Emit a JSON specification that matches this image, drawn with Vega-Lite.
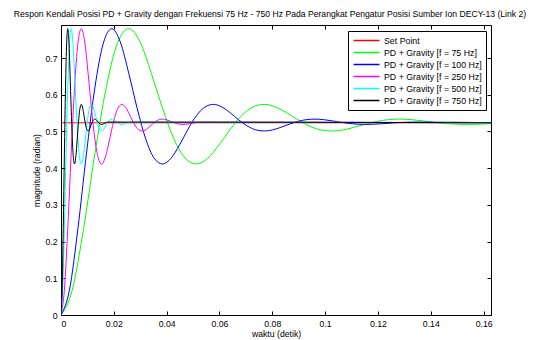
{
"$schema": "https://vega.github.io/schema/vega-lite/v6.json",
"width": 430, "height": 290,
"autosize": {"type": "none"},
"padding": {"left": 61, "top": 25, "right": 46, "bottom": 25},
"background": "white",
"title": {"text": "Respon Kendali Posisi PD + Gravity dengan Frekuensi 75 Hz - 750 Hz Pada Perangkat Pengatur Posisi Sumber Ion DECY-13 (Link 2)", "fontSize": 8.65, "font": "Liberation Sans", "fontWeight": "normal", "color": "black", "anchor": "middle", "dx": -6, "offset": 6},
"config": {
  "view": {"stroke": null},
  "font": "Liberation Sans",
  "axis": {"domainColor": "black", "domainWidth": 1, "tickColor": "black", "tickSize": -4, "labelPadding": 8, "labelFontSize": 8.7, "labelColor": "black", "labelFont": "Liberation Sans", "titleFont": "Liberation Sans", "titleFontSize": 8.7, "titleFontWeight": "normal", "titleColor": "black", "grid": false}
},
"data": {"values": [
{"s":"Set Point","t":0,"y":0.5236},{"s":"Set Point","t":0.167,"y":0.5236},
{"s":"PD + Gravity [f = 75 Hz]","t":0,"y":0},
{"s":"PD + Gravity [f = 75 Hz]","t":0.00427,"y":0.0683},
{"s":"PD + Gravity [f = 75 Hz]","t":0.00855,"y":0.2357},
{"s":"PD + Gravity [f = 75 Hz]","t":0.01282,"y":0.4389},
{"s":"PD + Gravity [f = 75 Hz]","t":0.0171,"y":0.6192},
{"s":"PD + Gravity [f = 75 Hz]","t":0.02137,"y":0.7405},
{"s":"PD + Gravity [f = 75 Hz]","t":0.02565,"y":0.78},
{"s":"PD + Gravity [f = 75 Hz]","t":0.02992,"y":0.744},
{"s":"PD + Gravity [f = 75 Hz]","t":0.03419,"y":0.6586},
{"s":"PD + Gravity [f = 75 Hz]","t":0.03847,"y":0.5628},
{"s":"PD + Gravity [f = 75 Hz]","t":0.04274,"y":0.4798},
{"s":"PD + Gravity [f = 75 Hz]","t":0.04702,"y":0.4273},
{"s":"PD + Gravity [f = 75 Hz]","t":0.05129,"y":0.4113},
{"s":"PD + Gravity [f = 75 Hz]","t":0.05557,"y":0.4271},
{"s":"PD + Gravity [f = 75 Hz]","t":0.05984,"y":0.4633},
{"s":"PD + Gravity [f = 75 Hz]","t":0.06411,"y":0.5061},
{"s":"PD + Gravity [f = 75 Hz]","t":0.06839,"y":0.5432},
{"s":"PD + Gravity [f = 75 Hz]","t":0.07266,"y":0.5666},
{"s":"PD + Gravity [f = 75 Hz]","t":0.07694,"y":0.5738},
{"s":"PD + Gravity [f = 75 Hz]","t":0.08121,"y":0.5667},
{"s":"PD + Gravity [f = 75 Hz]","t":0.08549,"y":0.5506},
{"s":"PD + Gravity [f = 75 Hz]","t":0.08976,"y":0.5314},
{"s":"PD + Gravity [f = 75 Hz]","t":0.09403,"y":0.5149},
{"s":"PD + Gravity [f = 75 Hz]","t":0.09831,"y":0.5044},
{"s":"PD + Gravity [f = 75 Hz]","t":0.10258,"y":0.5012},
{"s":"PD + Gravity [f = 75 Hz]","t":0.10686,"y":0.5043},
{"s":"PD + Gravity [f = 75 Hz]","t":0.11113,"y":0.5116},
{"s":"PD + Gravity [f = 75 Hz]","t":0.11541,"y":0.5201},
{"s":"PD + Gravity [f = 75 Hz]","t":0.11968,"y":0.5275},
{"s":"PD + Gravity [f = 75 Hz]","t":0.12395,"y":0.5322},
{"s":"PD + Gravity [f = 75 Hz]","t":0.12823,"y":0.5336},
{"s":"PD + Gravity [f = 75 Hz]","t":0.1325,"y":0.5322},
{"s":"PD + Gravity [f = 75 Hz]","t":0.13678,"y":0.529},
{"s":"PD + Gravity [f = 75 Hz]","t":0.14105,"y":0.5252},
{"s":"PD + Gravity [f = 75 Hz]","t":0.14533,"y":0.5219},
{"s":"PD + Gravity [f = 75 Hz]","t":0.1496,"y":0.5198},
{"s":"PD + Gravity [f = 75 Hz]","t":0.15387,"y":0.5191},
{"s":"PD + Gravity [f = 75 Hz]","t":0.15815,"y":0.5198},
{"s":"PD + Gravity [f = 75 Hz]","t":0.16242,"y":0.5212},
{"s":"PD + Gravity [f = 75 Hz]","t":0.1667,"y":0.5229},
{"s":"PD + Gravity [f = 100 Hz]","t":0,"y":0},
{"s":"PD + Gravity [f = 100 Hz]","t":0.00321,"y":0.0683},
{"s":"PD + Gravity [f = 100 Hz]","t":0.00641,"y":0.2357},
{"s":"PD + Gravity [f = 100 Hz]","t":0.00962,"y":0.4389},
{"s":"PD + Gravity [f = 100 Hz]","t":0.01282,"y":0.6192},
{"s":"PD + Gravity [f = 100 Hz]","t":0.01603,"y":0.7405},
{"s":"PD + Gravity [f = 100 Hz]","t":0.01923,"y":0.78},
{"s":"PD + Gravity [f = 100 Hz]","t":0.02244,"y":0.744},
{"s":"PD + Gravity [f = 100 Hz]","t":0.02565,"y":0.6586},
{"s":"PD + Gravity [f = 100 Hz]","t":0.02885,"y":0.5628},
{"s":"PD + Gravity [f = 100 Hz]","t":0.03206,"y":0.4798},
{"s":"PD + Gravity [f = 100 Hz]","t":0.03526,"y":0.4273},
{"s":"PD + Gravity [f = 100 Hz]","t":0.03847,"y":0.4113},
{"s":"PD + Gravity [f = 100 Hz]","t":0.04167,"y":0.4271},
{"s":"PD + Gravity [f = 100 Hz]","t":0.04488,"y":0.4633},
{"s":"PD + Gravity [f = 100 Hz]","t":0.04809,"y":0.5061},
{"s":"PD + Gravity [f = 100 Hz]","t":0.05129,"y":0.5432},
{"s":"PD + Gravity [f = 100 Hz]","t":0.0545,"y":0.5666},
{"s":"PD + Gravity [f = 100 Hz]","t":0.0577,"y":0.5738},
{"s":"PD + Gravity [f = 100 Hz]","t":0.06091,"y":0.5667},
{"s":"PD + Gravity [f = 100 Hz]","t":0.06411,"y":0.5506},
{"s":"PD + Gravity [f = 100 Hz]","t":0.06732,"y":0.5314},
{"s":"PD + Gravity [f = 100 Hz]","t":0.07053,"y":0.5149},
{"s":"PD + Gravity [f = 100 Hz]","t":0.07373,"y":0.5044},
{"s":"PD + Gravity [f = 100 Hz]","t":0.07694,"y":0.5012},
{"s":"PD + Gravity [f = 100 Hz]","t":0.08014,"y":0.5043},
{"s":"PD + Gravity [f = 100 Hz]","t":0.08335,"y":0.5116},
{"s":"PD + Gravity [f = 100 Hz]","t":0.08655,"y":0.5201},
{"s":"PD + Gravity [f = 100 Hz]","t":0.08976,"y":0.5275},
{"s":"PD + Gravity [f = 100 Hz]","t":0.09297,"y":0.5322},
{"s":"PD + Gravity [f = 100 Hz]","t":0.09617,"y":0.5336},
{"s":"PD + Gravity [f = 100 Hz]","t":0.09938,"y":0.5322},
{"s":"PD + Gravity [f = 100 Hz]","t":0.10258,"y":0.529},
{"s":"PD + Gravity [f = 100 Hz]","t":0.10579,"y":0.5252},
{"s":"PD + Gravity [f = 100 Hz]","t":0.10899,"y":0.5219},
{"s":"PD + Gravity [f = 100 Hz]","t":0.1122,"y":0.5198},
{"s":"PD + Gravity [f = 100 Hz]","t":0.11541,"y":0.5191},
{"s":"PD + Gravity [f = 100 Hz]","t":0.11861,"y":0.5198},
{"s":"PD + Gravity [f = 100 Hz]","t":0.12182,"y":0.5212},
{"s":"PD + Gravity [f = 100 Hz]","t":0.12502,"y":0.5229},
{"s":"PD + Gravity [f = 100 Hz]","t":0.12823,"y":0.5244},
{"s":"PD + Gravity [f = 100 Hz]","t":0.13143,"y":0.5253},
{"s":"PD + Gravity [f = 100 Hz]","t":0.13464,"y":0.5256},
{"s":"PD + Gravity [f = 100 Hz]","t":0.167,"y":0.5236},
{"s":"PD + Gravity [f = 250 Hz]","t":0,"y":0},
{"s":"PD + Gravity [f = 250 Hz]","t":0.00128,"y":0.0683},
{"s":"PD + Gravity [f = 250 Hz]","t":0.00256,"y":0.2357},
{"s":"PD + Gravity [f = 250 Hz]","t":0.00385,"y":0.4389},
{"s":"PD + Gravity [f = 250 Hz]","t":0.00513,"y":0.6192},
{"s":"PD + Gravity [f = 250 Hz]","t":0.00641,"y":0.7405},
{"s":"PD + Gravity [f = 250 Hz]","t":0.00769,"y":0.78},
{"s":"PD + Gravity [f = 250 Hz]","t":0.00898,"y":0.744},
{"s":"PD + Gravity [f = 250 Hz]","t":0.01026,"y":0.6586},
{"s":"PD + Gravity [f = 250 Hz]","t":0.01154,"y":0.5628},
{"s":"PD + Gravity [f = 250 Hz]","t":0.01282,"y":0.4798},
{"s":"PD + Gravity [f = 250 Hz]","t":0.01411,"y":0.4273},
{"s":"PD + Gravity [f = 250 Hz]","t":0.01539,"y":0.4113},
{"s":"PD + Gravity [f = 250 Hz]","t":0.01667,"y":0.4271},
{"s":"PD + Gravity [f = 250 Hz]","t":0.01795,"y":0.4633},
{"s":"PD + Gravity [f = 250 Hz]","t":0.01923,"y":0.5061},
{"s":"PD + Gravity [f = 250 Hz]","t":0.02052,"y":0.5432},
{"s":"PD + Gravity [f = 250 Hz]","t":0.0218,"y":0.5666},
{"s":"PD + Gravity [f = 250 Hz]","t":0.02308,"y":0.5738},
{"s":"PD + Gravity [f = 250 Hz]","t":0.02436,"y":0.5667},
{"s":"PD + Gravity [f = 250 Hz]","t":0.02565,"y":0.5506},
{"s":"PD + Gravity [f = 250 Hz]","t":0.02693,"y":0.5314},
{"s":"PD + Gravity [f = 250 Hz]","t":0.02821,"y":0.5149},
{"s":"PD + Gravity [f = 250 Hz]","t":0.02949,"y":0.5044},
{"s":"PD + Gravity [f = 250 Hz]","t":0.03078,"y":0.5012},
{"s":"PD + Gravity [f = 250 Hz]","t":0.03206,"y":0.5043},
{"s":"PD + Gravity [f = 250 Hz]","t":0.03334,"y":0.5116},
{"s":"PD + Gravity [f = 250 Hz]","t":0.03462,"y":0.5201},
{"s":"PD + Gravity [f = 250 Hz]","t":0.0359,"y":0.5275},
{"s":"PD + Gravity [f = 250 Hz]","t":0.03719,"y":0.5322},
{"s":"PD + Gravity [f = 250 Hz]","t":0.03847,"y":0.5336},
{"s":"PD + Gravity [f = 250 Hz]","t":0.03975,"y":0.5322},
{"s":"PD + Gravity [f = 250 Hz]","t":0.04103,"y":0.529},
{"s":"PD + Gravity [f = 250 Hz]","t":0.04232,"y":0.5252},
{"s":"PD + Gravity [f = 250 Hz]","t":0.0436,"y":0.5219},
{"s":"PD + Gravity [f = 250 Hz]","t":0.04488,"y":0.5198},
{"s":"PD + Gravity [f = 250 Hz]","t":0.04616,"y":0.5191},
{"s":"PD + Gravity [f = 250 Hz]","t":0.04744,"y":0.5198},
{"s":"PD + Gravity [f = 250 Hz]","t":0.04873,"y":0.5212},
{"s":"PD + Gravity [f = 250 Hz]","t":0.05001,"y":0.5229},
{"s":"PD + Gravity [f = 250 Hz]","t":0.05129,"y":0.5244},
{"s":"PD + Gravity [f = 250 Hz]","t":0.05257,"y":0.5253},
{"s":"PD + Gravity [f = 250 Hz]","t":0.05386,"y":0.5256},
{"s":"PD + Gravity [f = 250 Hz]","t":0.167,"y":0.5236},
{"s":"PD + Gravity [f = 500 Hz]","t":0,"y":0},
{"s":"PD + Gravity [f = 500 Hz]","t":0.00064,"y":0.0683},
{"s":"PD + Gravity [f = 500 Hz]","t":0.00128,"y":0.2357},
{"s":"PD + Gravity [f = 500 Hz]","t":0.00192,"y":0.4389},
{"s":"PD + Gravity [f = 500 Hz]","t":0.00256,"y":0.6192},
{"s":"PD + Gravity [f = 500 Hz]","t":0.00321,"y":0.7405},
{"s":"PD + Gravity [f = 500 Hz]","t":0.00385,"y":0.78},
{"s":"PD + Gravity [f = 500 Hz]","t":0.00449,"y":0.744},
{"s":"PD + Gravity [f = 500 Hz]","t":0.00513,"y":0.6586},
{"s":"PD + Gravity [f = 500 Hz]","t":0.00577,"y":0.5628},
{"s":"PD + Gravity [f = 500 Hz]","t":0.00641,"y":0.4798},
{"s":"PD + Gravity [f = 500 Hz]","t":0.00705,"y":0.4273},
{"s":"PD + Gravity [f = 500 Hz]","t":0.00769,"y":0.4113},
{"s":"PD + Gravity [f = 500 Hz]","t":0.00833,"y":0.4271},
{"s":"PD + Gravity [f = 500 Hz]","t":0.00898,"y":0.4633},
{"s":"PD + Gravity [f = 500 Hz]","t":0.00962,"y":0.5061},
{"s":"PD + Gravity [f = 500 Hz]","t":0.01026,"y":0.5432},
{"s":"PD + Gravity [f = 500 Hz]","t":0.0109,"y":0.5666},
{"s":"PD + Gravity [f = 500 Hz]","t":0.01154,"y":0.5738},
{"s":"PD + Gravity [f = 500 Hz]","t":0.01218,"y":0.5667},
{"s":"PD + Gravity [f = 500 Hz]","t":0.01282,"y":0.5506},
{"s":"PD + Gravity [f = 500 Hz]","t":0.01346,"y":0.5314},
{"s":"PD + Gravity [f = 500 Hz]","t":0.01411,"y":0.5149},
{"s":"PD + Gravity [f = 500 Hz]","t":0.01475,"y":0.5044},
{"s":"PD + Gravity [f = 500 Hz]","t":0.01539,"y":0.5012},
{"s":"PD + Gravity [f = 500 Hz]","t":0.01603,"y":0.5043},
{"s":"PD + Gravity [f = 500 Hz]","t":0.01667,"y":0.5116},
{"s":"PD + Gravity [f = 500 Hz]","t":0.01731,"y":0.5201},
{"s":"PD + Gravity [f = 500 Hz]","t":0.01795,"y":0.5275},
{"s":"PD + Gravity [f = 500 Hz]","t":0.01859,"y":0.5322},
{"s":"PD + Gravity [f = 500 Hz]","t":0.01923,"y":0.5336},
{"s":"PD + Gravity [f = 500 Hz]","t":0.01988,"y":0.5322},
{"s":"PD + Gravity [f = 500 Hz]","t":0.02052,"y":0.529},
{"s":"PD + Gravity [f = 500 Hz]","t":0.02116,"y":0.5252},
{"s":"PD + Gravity [f = 500 Hz]","t":0.0218,"y":0.5219},
{"s":"PD + Gravity [f = 500 Hz]","t":0.02244,"y":0.5198},
{"s":"PD + Gravity [f = 500 Hz]","t":0.02308,"y":0.5191},
{"s":"PD + Gravity [f = 500 Hz]","t":0.02372,"y":0.5198},
{"s":"PD + Gravity [f = 500 Hz]","t":0.02436,"y":0.5212},
{"s":"PD + Gravity [f = 500 Hz]","t":0.025,"y":0.5229},
{"s":"PD + Gravity [f = 500 Hz]","t":0.02565,"y":0.5244},
{"s":"PD + Gravity [f = 500 Hz]","t":0.02629,"y":0.5253},
{"s":"PD + Gravity [f = 500 Hz]","t":0.02693,"y":0.5256},
{"s":"PD + Gravity [f = 500 Hz]","t":0.167,"y":0.5236},
{"s":"PD + Gravity [f = 750 Hz]","t":0,"y":0},
{"s":"PD + Gravity [f = 750 Hz]","t":0.00043,"y":0.0683},
{"s":"PD + Gravity [f = 750 Hz]","t":0.00085,"y":0.2357},
{"s":"PD + Gravity [f = 750 Hz]","t":0.00128,"y":0.4389},
{"s":"PD + Gravity [f = 750 Hz]","t":0.00171,"y":0.6192},
{"s":"PD + Gravity [f = 750 Hz]","t":0.00214,"y":0.7405},
{"s":"PD + Gravity [f = 750 Hz]","t":0.00256,"y":0.78},
{"s":"PD + Gravity [f = 750 Hz]","t":0.00299,"y":0.744},
{"s":"PD + Gravity [f = 750 Hz]","t":0.00342,"y":0.6586},
{"s":"PD + Gravity [f = 750 Hz]","t":0.00385,"y":0.5628},
{"s":"PD + Gravity [f = 750 Hz]","t":0.00427,"y":0.4798},
{"s":"PD + Gravity [f = 750 Hz]","t":0.0047,"y":0.4273},
{"s":"PD + Gravity [f = 750 Hz]","t":0.00513,"y":0.4113},
{"s":"PD + Gravity [f = 750 Hz]","t":0.00556,"y":0.4271},
{"s":"PD + Gravity [f = 750 Hz]","t":0.00598,"y":0.4633},
{"s":"PD + Gravity [f = 750 Hz]","t":0.00641,"y":0.5061},
{"s":"PD + Gravity [f = 750 Hz]","t":0.00684,"y":0.5432},
{"s":"PD + Gravity [f = 750 Hz]","t":0.00727,"y":0.5666},
{"s":"PD + Gravity [f = 750 Hz]","t":0.00769,"y":0.5738},
{"s":"PD + Gravity [f = 750 Hz]","t":0.00812,"y":0.5667},
{"s":"PD + Gravity [f = 750 Hz]","t":0.00855,"y":0.5506},
{"s":"PD + Gravity [f = 750 Hz]","t":0.00898,"y":0.5314},
{"s":"PD + Gravity [f = 750 Hz]","t":0.0094,"y":0.5149},
{"s":"PD + Gravity [f = 750 Hz]","t":0.00983,"y":0.5044},
{"s":"PD + Gravity [f = 750 Hz]","t":0.01026,"y":0.5012},
{"s":"PD + Gravity [f = 750 Hz]","t":0.01069,"y":0.5043},
{"s":"PD + Gravity [f = 750 Hz]","t":0.01111,"y":0.5116},
{"s":"PD + Gravity [f = 750 Hz]","t":0.01154,"y":0.5201},
{"s":"PD + Gravity [f = 750 Hz]","t":0.01197,"y":0.5275},
{"s":"PD + Gravity [f = 750 Hz]","t":0.0124,"y":0.5322},
{"s":"PD + Gravity [f = 750 Hz]","t":0.01282,"y":0.5336},
{"s":"PD + Gravity [f = 750 Hz]","t":0.01325,"y":0.5322},
{"s":"PD + Gravity [f = 750 Hz]","t":0.01368,"y":0.529},
{"s":"PD + Gravity [f = 750 Hz]","t":0.01411,"y":0.5252},
{"s":"PD + Gravity [f = 750 Hz]","t":0.01453,"y":0.5219},
{"s":"PD + Gravity [f = 750 Hz]","t":0.01496,"y":0.5198},
{"s":"PD + Gravity [f = 750 Hz]","t":0.01539,"y":0.5191},
{"s":"PD + Gravity [f = 750 Hz]","t":0.01581,"y":0.5198},
{"s":"PD + Gravity [f = 750 Hz]","t":0.01624,"y":0.5212},
{"s":"PD + Gravity [f = 750 Hz]","t":0.01667,"y":0.5229},
{"s":"PD + Gravity [f = 750 Hz]","t":0.0171,"y":0.5244},
{"s":"PD + Gravity [f = 750 Hz]","t":0.01752,"y":0.5253},
{"s":"PD + Gravity [f = 750 Hz]","t":0.01795,"y":0.5256},
{"s":"PD + Gravity [f = 750 Hz]","t":0.167,"y":0.5236}
]},
"layer": [
  {"mark": {"type": "line", "strokeWidth": 1, "clip": true, "interpolate": "monotone"},
   "encoding": {
     "x": {"field": "t", "type": "quantitative", "scale": {"domain": [0, 0.1628], "nice": false, "zero": false},
           "axis": {"title": "waktu (detik)", "values": [0,0.02,0.04,0.06,0.08,0.1,0.12,0.14,0.16], "format": ".2~f", "titlePadding": 2}},
     "y": {"field": "y", "type": "quantitative", "scale": {"domain": [0, 0.79], "nice": false},
           "axis": {"title": "magnitude (radian)", "values": [0,0.1,0.2,0.3,0.4,0.5,0.6,0.7], "format": ".1~f", "titlePadding": 3}},
     "color": {"field": "s", "type": "nominal",
       "scale": {"domain": ["Set Point","PD + Gravity [f = 75 Hz]","PD + Gravity [f = 100 Hz]","PD + Gravity [f = 250 Hz]","PD + Gravity [f = 500 Hz]","PD + Gravity [f = 750 Hz]"],
                 "range": ["#ff0000","#00ff00","#0000ff","#ff00ff","#00ffff","#000000"]},
       "legend": {"title": null, "orient": "none", "legendX": 287, "legendY": 6, "symbolType": "M-3,0H3", "symbolSize": 75, "symbolStrokeWidth": 1.5, "symbolOffset": 9, "labelFontSize": 8.8, "labelFont": "Liberation Sans", "labelColor": "black", "strokeColor": "black", "fillColor": "white", "padding": 4, "rowPadding": 1, "labelOffset": 12, "labelLimit": 0}}
   }},
  {"mark": {"type": "point", "opacity": 0},
   "encoding": {
     "x": {"field": "t", "type": "quantitative", "axis": {"orient": "top", "labels": false, "title": null, "values": [0,0.02,0.04,0.06,0.08,0.1,0.12,0.14,0.16]}},
     "y": {"field": "y", "type": "quantitative", "axis": {"orient": "right", "labels": false, "title": null, "values": [0,0.1,0.2,0.3,0.4,0.5,0.6,0.7]}}
   }}
],
"resolve": {"axis": {"x": "independent", "y": "independent"}}
}
